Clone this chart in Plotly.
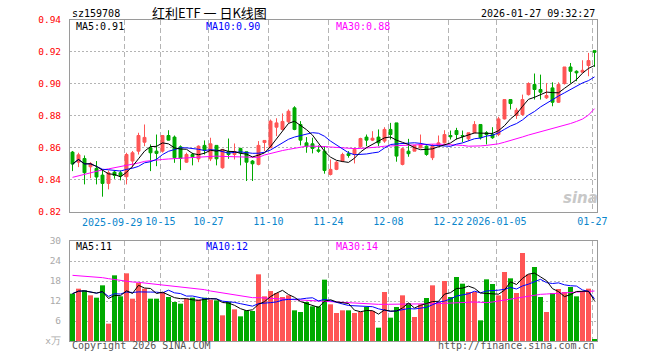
import plotly.graph_objects as go
import pandas as pd

# ---------------- data ----------------
holidays = ["2025-10-01", "2025-10-02", "2025-10-03", "2025-10-06", "2025-10-07",
            "2025-10-08", "2026-01-01", "2026-01-02"]
dates = [d.strftime("%Y-%m-%d") for d in pd.bdate_range("2025-09-16", "2026-01-27")
         if d.strftime("%Y-%m-%d") not in holidays]

tick_dates = ["2025-09-29", "2025-10-15", "2025-10-27", "2025-11-10", "2025-11-24",
              "2025-12-08", "2025-12-22", "2026-01-05", "2026-01-27"]
tick_text = ["2025-09-29", "10-15", "10-27", "11-10", "11-24", "12-08", "12-22",
             "2026-01-05", "01-27"]

opens = [0.8573, 0.8510, 0.8533, 0.8481, 0.8471, 0.8429, 0.8377, 0.8448, 0.8444, 0.8419,
         0.8517, 0.8579, 0.8635, 0.8600, 0.8579, 0.8579, 0.8677, 0.8667, 0.8606, 0.8510,
         0.8558, 0.8531, 0.8615, 0.8531, 0.8615, 0.8475, 0.8577, 0.8558, 0.8596, 0.8575,
         0.8517, 0.8496, 0.8633, 0.8600, 0.8729, 0.8715, 0.8763, 0.8850, 0.8746, 0.8631,
         0.8625, 0.8587, 0.8579, 0.8433, 0.8465, 0.8517, 0.8563, 0.8558, 0.8606, 0.8667,
         0.8648, 0.8667, 0.8642, 0.8715, 0.8756, 0.8496, 0.8579, 0.8579, 0.8600, 0.8610,
         0.8538, 0.8615, 0.8631, 0.8677, 0.8708, 0.8677, 0.8656, 0.8694, 0.8746, 0.8694,
         0.8683, 0.8683, 0.8781, 0.8902, 0.8802, 0.8808, 0.8933, 0.8996, 0.8965, 0.8913,
         0.8975, 0.8885, 0.9002, 0.9106, 0.9079, 0.9073, 0.9115, 0.9208]
highs = [0.8580, 0.8569, 0.8552, 0.8510, 0.8517, 0.8465, 0.8458, 0.8458, 0.8458, 0.8569,
         0.8580, 0.8694, 0.8746, 0.8621, 0.8683, 0.8680, 0.8710, 0.8677, 0.8615, 0.8569,
         0.8569, 0.8615, 0.8646, 0.8663, 0.8615, 0.8590, 0.8658, 0.8627, 0.8600, 0.8577,
         0.8523, 0.8642, 0.8646, 0.8777, 0.8785, 0.8815, 0.8840, 0.8860, 0.8767, 0.8667,
         0.8663, 0.8615, 0.8610, 0.8527, 0.8517, 0.8569, 0.8579, 0.8600, 0.8663, 0.8683,
         0.8704, 0.8715, 0.8729, 0.8756, 0.8756, 0.8600, 0.8656, 0.8615, 0.8683, 0.8615,
         0.8623, 0.8677, 0.8710, 0.8708, 0.8725, 0.8708, 0.8694, 0.8767, 0.8746, 0.8704,
         0.8729, 0.8794, 0.8902, 0.8902, 0.8850, 0.8933, 0.9010, 0.9065, 0.9058, 0.9006,
         0.9010, 0.9010, 0.9106, 0.9131, 0.9085, 0.9148, 0.9194, 0.9208]
lows = [0.8454, 0.8479, 0.8371, 0.8410, 0.8371, 0.8294, 0.8340, 0.8406, 0.8396, 0.8371,
        0.8475, 0.8558, 0.8610, 0.8454, 0.8485, 0.8570, 0.8646, 0.8506, 0.8460, 0.8506,
        0.8490, 0.8510, 0.8558, 0.8517, 0.8490, 0.8469, 0.8531, 0.8527, 0.8490, 0.8392,
        0.8392, 0.8490, 0.8580, 0.8600, 0.8673, 0.8708, 0.8756, 0.8710, 0.8615, 0.8569,
        0.8565, 0.8569, 0.8438, 0.8427, 0.8460, 0.8510, 0.8538, 0.8502, 0.8600, 0.8610,
        0.8642, 0.8610, 0.8631, 0.8652, 0.8513, 0.8490, 0.8544, 0.8579, 0.8596, 0.8550,
        0.8523, 0.8610, 0.8627, 0.8652, 0.8652, 0.8635, 0.8642, 0.8690, 0.8652, 0.8621,
        0.8656, 0.8673, 0.8777, 0.8840, 0.8781, 0.8800, 0.8927, 0.8902, 0.8902, 0.8906,
        0.8860, 0.8881, 0.8996, 0.9006, 0.9017, 0.9073, 0.9048, 0.9106]
closes = [0.8498, 0.8556, 0.8444, 0.8502, 0.8417, 0.8377, 0.8444, 0.8427, 0.8425, 0.8558,
          0.8569, 0.8677, 0.8665, 0.8569, 0.8565, 0.8677, 0.8648, 0.8538, 0.8533, 0.8558,
          0.8544, 0.8610, 0.8585, 0.8625, 0.8531, 0.8590, 0.8558, 0.8577, 0.8569, 0.8510,
          0.8500, 0.8615, 0.8646, 0.8767, 0.8756, 0.8765, 0.8829, 0.8715, 0.8648, 0.8610,
          0.8596, 0.8579, 0.8458, 0.8465, 0.8510, 0.8558, 0.8552, 0.8590, 0.8658, 0.8648,
          0.8660, 0.8631, 0.8715, 0.8683, 0.8548, 0.8594, 0.8563, 0.8615, 0.8621, 0.8558,
          0.8610, 0.8631, 0.8683, 0.8669, 0.8683, 0.8673, 0.8694, 0.8746, 0.8663, 0.8683,
          0.8663, 0.8781, 0.8902, 0.8877, 0.8835, 0.8902, 0.9002, 0.8965, 0.8948, 0.8927,
          0.8885, 0.8996, 0.9106, 0.9079, 0.9069, 0.9085, 0.9146, 0.9198]
ma30_price = [0.8415, 0.8425, 0.8435, 0.8445, 0.8455, 0.8462, 0.8468, 0.8475, 0.8480, 0.8490,
              0.8497, 0.8505, 0.8515, 0.8520, 0.8525, 0.8527, 0.8530, 0.8532, 0.8535, 0.8538,
              0.8540, 0.8542, 0.8545, 0.8547, 0.8548, 0.8546, 0.8545, 0.8544, 0.8543, 0.8542,
              0.8538, 0.8540, 0.8555, 0.8565, 0.8575, 0.8583, 0.8590, 0.8598, 0.8605, 0.8610,
              0.8610, 0.8610, 0.8608, 0.8605, 0.8602, 0.8600, 0.8596, 0.8595, 0.8596, 0.8598,
              0.8600, 0.8605, 0.8610, 0.8612, 0.8615, 0.8617, 0.8618, 0.8620, 0.8621, 0.8622,
              0.8623, 0.8623, 0.8622, 0.8621, 0.8620, 0.8615, 0.8610, 0.8610, 0.8612, 0.8615,
              0.8618, 0.8625, 0.8635, 0.8645, 0.8655, 0.8668, 0.8680, 0.8690, 0.8698, 0.8712,
              0.8720, 0.8730, 0.8742, 0.8752, 0.8765, 0.8780, 0.8805, 0.8845]
volumes = [14.2, 15.7, 15.2, 13.7, 13.0, 16.7, 5.2, 19.7, 13.4, 20.3,
           12.7, 17.4, 15.7, 12.7, 12.7, 14.7, 13.2, 11.7, 11.2, 12.7,
           13.0, 12.4, 13.0, 12.4, 12.2, 7.7, 11.7, 9.5, 7.4, 9.2,
           9.0, 20.0, 13.4, 15.0, 14.4, 13.2, 13.7, 9.2, 8.7, 11.7,
           10.4, 10.4, 18.4, 11.0, 8.4, 9.2, 9.2, 8.4, 8.7, 10.2,
           9.0, 4.0, 14.7, 7.0, 10.2, 13.7, 11.4, 7.2, 11.0, 12.9,
           16.7, 11.7, 18.0, 13.2, 19.2, 17.2, 14.7, 14.7, 6.2, 18.5,
           17.1, 13.7, 20.7, 18.8, 14.4, 26.4, 20.0, 22.2, 13.2, 8.7,
           14.4, 15.6, 14.7, 16.2, 13.4, 14.7, 15.7, 0.4]
ma30_vol = [19.7, 19.6, 19.5, 19.3, 19.2, 19.0, 18.7, 18.4, 18.2, 18.0,
            17.7, 17.6, 17.4, 17.3, 17.1, 17.0, 16.8, 16.5, 16.4, 16.1,
            15.9, 15.7, 15.4, 15.0, 14.7, 14.4, 14.0, 13.7, 13.4, 13.1,
            13.0, 13.0, 12.9, 12.8, 12.7, 12.6, 12.5, 12.4, 12.3, 12.2,
            12.1, 12.0, 11.9, 11.6, 11.5, 11.5, 11.4, 11.3, 11.3, 11.2,
            11.1, 11.0, 11.0, 11.0, 11.0, 11.1, 11.1, 11.0, 11.0, 11.1,
            11.1, 11.2, 11.3, 11.4, 11.5, 11.6, 11.7, 11.7, 11.6, 11.5,
            11.7, 12.0, 12.2, 12.5, 12.8, 13.0, 13.4, 13.8, 14.0, 14.1,
            14.2, 14.2, 14.3, 14.4, 14.5, 14.7, 14.9, 15.0]

# ---------------- derived ----------------
n = len(dates)
x = list(range(n))
cs = pd.Series(closes)
ma5_price = cs.rolling(5, min_periods=1).mean().tolist()
ma10_price = cs.rolling(10, min_periods=1).mean().tolist()
vs = pd.Series(volumes)
ma5_vol = vs.rolling(5, min_periods=1).mean().tolist()
ma10_vol = vs.rolling(10, min_periods=1).mean().tolist()

RED = "#ff5555"
GREEN = "#00aa00"
vol_colors = [RED if c >= o else GREEN for o, c in zip(opens, closes)]

MONO = "DejaVu Sans Mono"
GRID = "#b4b4b4"
FRAME = "#9a9a9a"
XLAB = "#0a86cc"

# grid offset: the chart's vertical grid sits slightly left of the bar centre
tickvals = [dates.index(d) - 0.35 for d in tick_dates]
# first label is drawn separately (right-aligned) so it does not collide with the next one
axis_text = [""] + tick_text[1:]

fig = go.Figure()
fig.add_trace(go.Candlestick(
    x=x, open=opens, high=highs, low=lows, close=closes,
    increasing=dict(line=dict(color=RED, width=1), fillcolor=RED),
    decreasing=dict(line=dict(color=GREEN, width=1), fillcolor=GREEN),
    whiskerwidth=0, xaxis="x", yaxis="y", hoverinfo="skip"))
for vals, col in [(ma30_price, "#ff00ff"), (ma10_price, "#0000ff"), (ma5_price, "#000000")]:
    fig.add_trace(go.Scatter(x=x, y=vals, mode="lines", line=dict(color=col, width=1),
                             xaxis="x", yaxis="y", hoverinfo="skip"))

fig.add_trace(go.Bar(x=x, y=volumes, marker=dict(color=vol_colors, line=dict(width=0)),
                     width=0.83, xaxis="x2", yaxis="y2", hoverinfo="skip"))
for vals, col in [(ma30_vol, "#ff00ff"), (ma10_vol, "#0000ff"), (ma5_vol, "#000000")]:
    fig.add_trace(go.Scatter(x=x, y=vals, mode="lines", line=dict(color=col, width=1),
                             xaxis="x2", yaxis="y2", hoverinfo="skip"))

L, R, T, B = 70, 597, 20, 341
W, H = 660, 360
xr = [-0.4167, n - 1 + 0.4167]
price_dom = [(B - 211.7) / (B - T), 1.0]
vol_dom = [0.0, (B - 241) / (B - T)]

common_x = dict(range=xr, tickvals=tickvals, showgrid=True, gridcolor=GRID,
                griddash="5px,3px", gridwidth=1, showline=True, linecolor=FRAME,
                linewidth=1, mirror=True, zeroline=False, ticks="", fixedrange=True,
                automargin=False, tickangle=0)

fig.update_layout(
    width=W, height=H, margin=dict(l=L, r=W - R, t=T, b=H - B, autoexpand=False),
    paper_bgcolor="white", plot_bgcolor="white", showlegend=False,
    xaxis=dict(**common_x, domain=[0, 1], anchor="y", ticktext=axis_text,
               tickfont=dict(family=MONO, size=10, color=XLAB),
               rangeslider=dict(visible=False)),
    xaxis2=dict(**common_x, domain=[0, 1], anchor="y2", showticklabels=False),
    yaxis=dict(domain=price_dom, range=[0.82, 0.94], dtick=0.02, tick0=0.82,
               tickformat=".2f", showgrid=True, gridcolor=GRID, griddash="2px,2px",
               showline=True, linecolor=FRAME, mirror=True, zeroline=False, ticks="",
               tickfont=dict(family=MONO, size=9.5, color="#ff0000"),
               ticklabelstandoff=6, fixedrange=True, automargin=False),
    yaxis2=dict(domain=vol_dom, range=[0, 30], tickvals=[0, 6, 12, 18, 24, 30],
                ticktext=["x万", "6", "12", "18", "24", "30"],
                showgrid=True, gridcolor=GRID, griddash="2px,2px",
                showline=True, linecolor=FRAME, mirror=True, zeroline=False, ticks="",
                tickfont=dict(family=MONO, size=9.5, color="#aaaaaa"),
                ticklabelstandoff=6, fixedrange=True, automargin=False),
    boxgap=0.3,
)


def ann(text, px, py, color, size=10, xanchor="left", family=MONO, **font_kw):
    fig.add_annotation(text=text, xref="paper", yref="paper",
                       x=(px - L) / (R - L), y=(B - py) / (B - T),
                       xanchor=xanchor, yanchor="middle", showarrow=False,
                       font=dict(family=family, size=size, color=color, **font_kw))


ann(tick_text[0], 144, 222, XLAB, xanchor="right")
ann("sz159708", 70, 13, "#000000")
ann("红利ETF\u00a0一\u00a0日K线图", 209, 12, "#000000", size=13, xanchor="center",
    family="Noto Sans CJK SC")
ann("2026-01-27 09:32:27", 597, 13, "#000000", xanchor="right")
ann("MA5:0.91", 74, 26, "#000000")
ann("MA10:0.90", 204, 26, "#0000ff")
ann("MA30:0.88", 334, 26, "#ff00ff")
ann("MA5:11", 74, 246, "#000000")
ann("MA10:12", 204, 246, "#0000ff")
ann("MA30:14", 334, 246, "#ff00ff")
ann("Copyright 2026 SINA.COM", 70, 346, "#555555")
ann("http://finance.sina.com.cn", 597, 346, "#555555", xanchor="right")
ann("sina", 580, 198, "#c8c8c8", size=15, xanchor="center", family="DejaVu Sans",
    weight="bold", style="italic")

fig.write_html("out.html", config={"displayModeBar": False},
               post_script="document.body.style.margin='0px';")
